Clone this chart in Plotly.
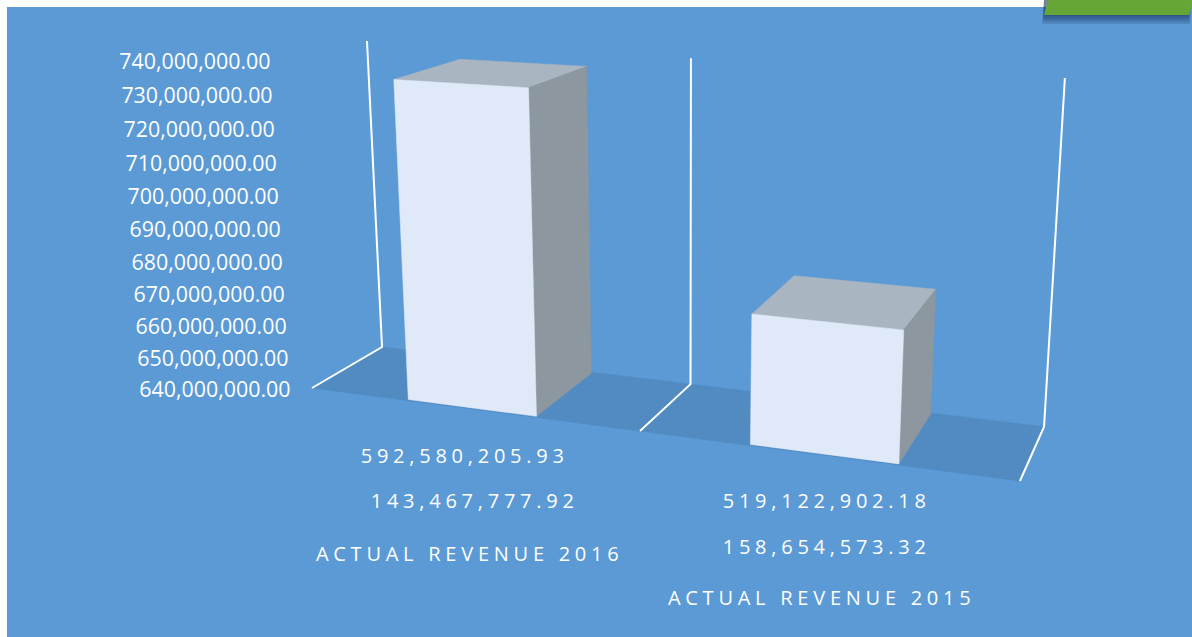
import plotly.graph_objects as go

# Revenue table: the two stacked series per category
categories = ["ACTUAL REVENUE 2016", "ACTUAL REVENUE 2015"]
series_a = [592580205.93, 519122902.18]
series_b = [143467777.92, 158654573.32]
tick_values = [640e6, 650e6, 660e6, 670e6, 680e6, 690e6, 700e6, 710e6, 720e6, 730e6, 740e6]

AXIS_MIN, AXIS_MAX = tick_values[0], tick_values[-1]
BAR_HALF_WIDTH = 0.196
DEPTH_FRONT, DEPTH_BACK = 0.02, 0.98

BG = "#5b9ad5"
FLOOR = "#518bc2"
FRONT = "#dfe9f7"
SIDE = "#8d979f"
TOP = "#a9b5c0"
FONT = "Open Sans"


def project(cat, depth, value):
    """Perspective projection of (category position, depth, value) to plot coordinates."""
    h = (value - AXIS_MIN) / (AXIS_MAX - AXIS_MIN)
    w = 1 - 0.0684 * cat + 0.0743 * depth - 0.0511 * h
    x = 312 + 284.2 * cat + 98.4 * depth - 34.9 * h
    y = 388 + 13.6 * cat - 15.2 * depth - 330.85 * h
    return x / w, y / w


def face(points, color):
    xy = [project(*p) for p in points + points[:1]]
    return go.Scatter(
        x=[p[0] for p in xy], y=[p[1] for p in xy], mode="lines", fill="toself",
        fillcolor=color, line=dict(color=color, width=0.5), hoverinfo="skip", showlegend=False,
    )


fig = go.Figure()

# Floor of the chart box
fig.add_trace(face([(0, 0, AXIS_MIN), (2, 0, AXIS_MIN), (2, 1, AXIS_MIN), (0, 1, AXIS_MIN)], FLOOR))

# White frame lines at each category boundary: along the floor, then up the back wall
for boundary in (0, 1, 2):
    xy = [project(boundary, 0, AXIS_MIN), project(boundary, 1, AXIS_MIN), project(boundary, 1, AXIS_MAX)]
    fig.add_trace(go.Scatter(
        x=[p[0] for p in xy], y=[p[1] for p in xy], mode="lines",
        line=dict(color="white", width=2), hoverinfo="skip", showlegend=False,
    ))

# Bars, each as three visible faces
for i, (a, b) in enumerate(zip(series_a, series_b)):
    total = a + b
    left, right = i + 0.5 - BAR_HALF_WIDTH, i + 0.5 + BAR_HALF_WIDTH
    f, k = DEPTH_FRONT, DEPTH_BACK
    fig.add_trace(face([(left, f, total), (right, f, total), (right, k, total), (left, k, total)], TOP))
    fig.add_trace(face([(right, f, AXIS_MIN), (right, k, AXIS_MIN), (right, k, total), (right, f, total)], SIDE))
    fig.add_trace(face([(left, f, AXIS_MIN), (right, f, AXIS_MIN), (right, f, total), (left, f, total)], FRONT))

# Value axis labels follow the front-left corner of the box
tick_xy = [project(0, 0, v) for v in tick_values]
fig.add_trace(go.Scatter(
    x=[p[0] - 21.5 for p in tick_xy], y=[p[1] + 3.5 for p in tick_xy], mode="text",
    text=[f"{v:,.2f}" for v in tick_values], textposition="middle left",
    textfont=dict(family=FONT, size=21.4, color="white"), hoverinfo="skip", showlegend=False,
))

# Data table rows under each bar
table_rows = [
    (464.5, 455, f"{series_a[0]:,.2f}"),
    (474.5, 500, f"{series_b[0]:,.2f}"),
    (469.5, 553, categories[0]),
    (826.5, 500, f"{series_a[1]:,.2f}"),
    (826.5, 546, f"{series_b[1]:,.2f}"),
    (821.5, 597, categories[1]),
]
for x, y, label in table_rows:
    fig.add_annotation(
        x=x, y=y, xref="x", yref="y", text=label, showarrow=False,
        xanchor="center", yanchor="middle",
        font=dict(family=FONT, size=20, color="white"),
    )

# Page panel, corner tab and its soft shadow
shapes = [dict(type="rect", xref="x", yref="y", x0=7, x1=1192, y0=7, y1=637,
               fillcolor=BG, line_width=0, layer="below")]
for grow in (9, 7, 5, 3, 1):
    shapes.append(dict(
        type="path", xref="x", yref="y", layer="below", line_width=0,
        fillcolor="rgba(20,45,90,0.16)",
        path=f"M 1044 0 L {1044 - grow * 0.2} {15 + grow} L {1188 + grow * 0.2} {15 + grow} L 1192 0 Z",
    ))
shapes.append(dict(
    type="path", xref="x", yref="y", layer="above", line_width=0, fillcolor="#66a636",
    path="M 1048 0 L 1044 15 L 1189 15 L 1192 6 L 1192 0 Z",
))

fig.update_layout(
    width=1192, height=637, margin=dict(l=0, r=0, t=0, b=0),
    paper_bgcolor="white", plot_bgcolor="white", showlegend=False, shapes=shapes,
    xaxis=dict(range=[0, 1192], visible=False, fixedrange=True),
    yaxis=dict(range=[637, 0], visible=False, fixedrange=True),
)

# Wide tracking on the table rows
letter_spacing = """
var s = document.createElement('style');
s.textContent = '.annotation-text{letter-spacing:4.75px}';
document.head.appendChild(s);
"""
fig.write_html("out.html", post_script=letter_spacing, config={"displayModeBar": False})
